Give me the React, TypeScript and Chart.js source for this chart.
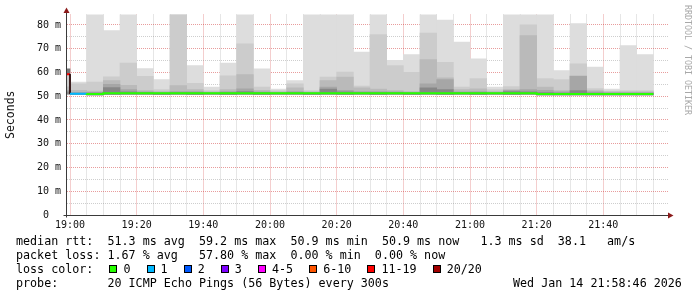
import React, { useEffect, useRef } from 'react';
import { Chart, registerables } from 'chart.js';

Chart.register(...registerables);

// ---------- data ----------
// 5-minute intervals (start times); first one is only partly visible
const intervalStarts = [
  '18:55', '19:00', '19:05', '19:10', '19:15', '19:20', '19:25', '19:30', '19:35',
  '19:40', '19:45', '19:50', '19:55', '20:00', '20:05', '20:10', '20:15', '20:20',
  '20:25', '20:30', '20:35', '20:40', '20:45', '20:50', '20:55', '21:00', '21:05',
  '21:10', '21:15', '21:20', '21:25', '21:30', '21:35', '21:40', '21:45', '21:50',
];

// smoke bands (ms): lowest ping, then nested upper bounds from outermost to innermost
const smokeMin = [
  51.0, 50.8, 50.6, 50.8, 50.9, 50.9, 50.8, 50.9, 50.8, 50.9, 50.8, 50.9,
  50.8, 50.9, 50.9, 50.8, 50.9, 50.8, 50.9, 50.8, 50.9, 50.8, 50.9, 50.8,
  50.9, 50.8, 50.9, 50.8, 50.9, 50.6, 50.6, 50.6, 50.6, 50.6, 50.6, 50.6,
];
const smokeP1 = [
  61.5, 56.0, 97.0, 77.6, 101.0, 61.6, 57.0, 96.0, 62.9, 53.8, 63.9, 99.0,
  61.5, 53.0, 56.6, 95.0, 98.0, 103.0, 68.6, 97.0, 65.1, 67.5, 102.0, 82.0,
  72.8, 65.7, 53.9, 96.0, 100.0, 94.0, 60.8, 80.6, 62.3, 53.0, 71.3, 67.5,
];
const smokeP2 = [
  58.8, 55.2, 56.0, 58.2, 64.0, 58.4, 52.8, 96.0, 55.4, 52.4, 58.6, 72.1,
  53.8, 52.4, 55.2, 52.4, 58.1, 60.2, 54.3, 75.9, 62.9, 60.1, 76.6, 64.3,
  53.9, 57.4, 52.8, 54.1, 80.1, 57.4, 57.0, 63.6, 53.2, 52.2, 52.4, 52.4,
];
const smokeP3 = [
  54.0, 52.5, 52.2, 56.6, 54.6, 52.4, 52.0, 54.5, 52.8, 51.8, 52.8, 59.1,
  52.5, 51.8, 53.5, 51.8, 56.6, 58.1, 53.5, 53.0, 52.4, 52.0, 65.4, 57.7,
  52.8, 53.1, 52.0, 52.8, 75.5, 53.8, 52.4, 58.6, 52.4, 51.8, 51.8, 51.8,
];
const smokeP4 = [
  52.5, 51.6, 51.6, 55.0, 52.8, 51.8, 51.5, 52.0, 52.0, 51.5, 52.0, 53.1,
  51.8, 51.5, 52.0, 51.5, 53.8, 52.5, 52.0, 52.0, 51.8, 51.6, 55.2, 57.0,
  51.8, 52.0, 51.6, 52.5, 52.8, 52.5, 51.8, 58.4, 51.8, 51.5, 51.5, 51.5,
];
const smokeP5 = [
  51.8, 51.2, 51.3, 53.6, 51.8, 51.5, 51.3, 51.5, 51.5, 51.3, 51.5, 52.0,
  51.5, 51.3, 51.5, 51.3, 53.0, 51.8, 51.5, 51.5, 51.5, 51.3, 53.5, 52.8,
  51.5, 51.5, 51.3, 52.0, 51.8, 51.5, 51.3, 52.4, 51.3, 51.2, 51.2, 51.2,
];
const medianRtt = [
  59.3, 51.0, 50.9, 51.2, 51.2, 51.3, 51.2, 51.2, 51.2, 51.3, 51.2, 51.2,
  51.2, 51.3, 51.2, 51.2, 51.2, 51.3, 51.2, 51.2, 51.2, 51.2, 51.3, 51.2,
  51.2, 51.2, 51.2, 51.3, 51.2, 50.9, 50.9, 50.9, 50.9, 50.9, 50.9, 50.9,
];
const lostPings = [
  12, 1, 0, 0, 0, 0, 0, 0, 0, 0, 0, 0,
  0, 0, 0, 0, 0, 0, 0, 0, 0, 0, 0, 0,
  0, 0, 0, 0, 0, 0, 0, 0, 0, 0, 0, 0,
];

const lossBins = ['0', '1', '2', '3', '4-5', '6-10', '11-19', '20/20'];
const lossBinUpper = [0, 1, 2, 3, 5, 10, 19, 20];
const lossBinColors = ['#26ff00', '#00b8ff', '#0059ff', '#7e00ff', '#ff00ff', '#ff5500', '#ff0000', '#a10000'];

const yTickValues = [0, 5, 10, 15, 20, 25, 30, 35, 40, 45, 50, 55, 60, 65, 70, 75, 80];
const xTickMinutes = [
  0, 5, 10, 15, 20, 25, 30, 35, 40, 45, 50, 55, 60, 65, 70, 75, 80, 85,
  90, 95, 100, 105, 110, 115, 120, 125, 130, 135, 140, 145, 150, 155, 160, 165, 170, 175,
];
const axisStartMinute = -0.9; // 18:59:06
const axisEndMinute = 179.4;
const yMax = 84.4;
const intervalMinutes = 5;

const legendRtt = 'median rtt:  51.3 ms avg  59.2 ms max  50.9 ms min  50.9 ms now   1.3 ms sd  38.1   am/s';
const legendLoss = 'packet loss: 1.67 % avg   57.80 % max  0.00 % min  0.00 % now';
const legendProbe = 'probe:       20 ICMP Echo Pings (56 Bytes) every 300s';
const legendDate = 'Wed Jan 14 21:58:46 2026';
const watermark = 'RRDTOOL / TOBI OETIKER';

// ---------- helpers ----------
const MONO = '"DejaVu Sans Mono", monospace';
const GRID_RED = 'rgba(200,20,20,0.42)';
const GRID_GREY = 'rgba(120,120,120,0.36)';
const smokeColors = ['#dddddd', '#cccccc', '#bababa', '#a6a6a6', '#878787'];

function minutesFrom19(t: string): number {
  const [h, m] = t.split(':').map(Number);
  return (h - 19) * 60 + m;
}
function lossColor(n: number): string {
  for (let i = 0; i < lossBinUpper.length; i++) if (n <= lossBinUpper[i]) return lossBinColors[i];
  return lossBinColors[lossBinColors.length - 1];
}
function timeLabel(v: number): string {
  const total = 19 * 60 + v;
  const h = Math.floor(total / 60);
  const m = total % 60;
  return `${h}:${String(m).padStart(2, '0')}`;
}

const axisPlugin = {
  id: 'axisArrows',
  afterDraw(chart: any) {
    const { ctx, chartArea: a } = chart;
    const ax = Math.round(a.left) - 0.5;
    const ay = Math.round(a.bottom) + 0.5;
    ctx.save();
    ctx.strokeStyle = '#3a3a3a';
    ctx.lineWidth = 1;
    ctx.beginPath();
    ctx.moveTo(ax - 3, ay);
    ctx.lineTo(a.right + 0.5, ay);
    ctx.moveTo(ax, ay + 2);
    ctx.lineTo(ax, a.top - 1.5);
    ctx.stroke();
    ctx.fillStyle = '#8b1a1a';
    ctx.beginPath();
    ctx.moveTo(a.right, ay - 3);
    ctx.lineTo(a.right + 5.5, ay);
    ctx.lineTo(a.right, ay + 3);
    ctx.closePath();
    ctx.fill();
    ctx.beginPath();
    ctx.moveTo(ax - 3, a.top - 1.5);
    ctx.lineTo(ax, a.top - 7);
    ctx.lineTo(ax + 3, a.top - 1.5);
    ctx.closePath();
    ctx.fill();
    ctx.restore();
  },
};

export default function App() {
  const canvasRef = useRef<HTMLCanvasElement | null>(null);

  useEffect(() => {
    if (!canvasRef.current) return;
    const starts = intervalStarts.map(minutesFrom19);
    const centers = starts.map((s) => s + intervalMinutes / 2);
    const tops = [smokeP1, smokeP2, smokeP3, smokeP4, smokeP5];

    const smokeSets = tops.map((top, li) => ({
      type: 'bar' as const,
      data: centers.map((c, i) => ({ x: c, y: [smokeMin[i], top[i]] })),
      backgroundColor:
        li === 0 ? centers.map((_, i) => (lostPings[i] >= 11 ? '#777777' : smokeColors[0])) : smokeColors[li],
      borderWidth: 0,
      barPercentage: 1,
      categoryPercentage: 1,
      grouped: false,
      order: 10 - li,
    }));

    const medianPoints: { x: number; y: number }[] = [];
    starts.forEach((s, i) => {
      medianPoints.push({ x: s, y: medianRtt[i] }, { x: s + intervalMinutes, y: medianRtt[i] });
    });
    const isJump = (b: number) => b + 1 < medianRtt.length && Math.abs(medianRtt[b + 1] - medianRtt[b]) > 2;

    const medianSet = {
      type: 'line' as const,
      data: medianPoints,
      borderColor: lossBinColors[0],
      borderWidth: 2,
      pointRadius: 0,
      fill: false,
      tension: 0,
      order: 0,
      segment: {
        borderColor: (ctx: any) => {
          const i = ctx.p0DataIndex;
          const b = Math.floor(i / 2);
          if (i % 2 === 0) return lossColor(lostPings[b]);
          return isJump(b) ? '#2a0808' : lossColor(lostPings[b + 1]);
        },
        borderWidth: (ctx: any) => {
          const i = ctx.p0DataIndex;
          const b = Math.floor(i / 2);
          return i % 2 === 1 && isJump(b) ? 1 : 2;
        },
      },
    };

    const chart = new Chart(canvasRef.current, {
      type: 'bar',
      data: { datasets: [...smokeSets, medianSet] as any },
      options: {
        responsive: false,
        animation: false,
        devicePixelRatio: 1,
        layout: { padding: { left: 0, top: 14.5, right: 29, bottom: 62 } },
        plugins: { legend: { display: false }, tooltip: { enabled: false } },
        scales: {
          x: {
            type: 'linear',
            min: axisStartMinute,
            max: axisEndMinute,
            offset: false,
            z: 1,
            afterBuildTicks: (s: any) => {
              s.ticks = xTickMinutes.map((v) => ({ value: v }));
            },
            afterFit: (s: any) => {
              s.height = 20;
            },
            grid: {
              offset: false,
              drawTicks: false,
              lineWidth: 1,
              color: (c: any) => (c.tick && c.tick.value % 20 === 0 ? GRID_RED : GRID_GREY),
            },
            border: { display: false, dash: [1, 1] },
            ticks: {
              autoSkip: false,
              maxRotation: 0,
              padding: 4,
              color: '#111',
              font: { family: MONO, size: 10 },
              callback: (v: any) => (Number(v) % 20 === 0 ? timeLabel(Number(v)) : ''),
            },
          },
          y: {
            type: 'linear',
            min: 0,
            max: yMax,
            z: 1,
            afterBuildTicks: (s: any) => {
              s.ticks = yTickValues.map((v) => ({ value: v }));
            },
            afterFit: (s: any) => {
              s.width = 67;
            },
            grid: {
              drawTicks: false,
              lineWidth: 1,
              color: (c: any) => (c.tick && c.tick.value % 10 === 0 ? GRID_RED : GRID_GREY),
            },
            border: { display: false, dash: [1, 1] },
            ticks: {
              autoSkip: false,
              padding: 6,
              color: '#111',
              font: { family: MONO, size: 10 },
              callback: (v: any) => {
                const n = Number(v);
                if (n % 10 !== 0) return '';
                return n === 0 ? '0  ' : `${n} m`;
              },
            },
            title: {
              display: true,
              text: 'Seconds',
              color: '#111',
              font: { family: MONO, size: 11.5 },
              padding: { top: 4, bottom: 0 },
            },
          },
        },
      } as any,
      plugins: [axisPlugin],
    });
    return () => chart.destroy();
  }, []);

  const legendFont = `11.7px ${MONO}`;

  return (
    <div style={{ position: 'absolute', left: 0, top: 0, width: 697, height: 297, background: '#fff', overflow: 'hidden' }}>
      <canvas ref={canvasRef} width={697} height={297} style={{ position: 'absolute', left: 0, top: 0, width: 697, height: 297 }} />
      <div
        style={{
          position: 'absolute',
          left: 683,
          top: 5,
          writingMode: 'vertical-rl',
          font: `8.3px ${MONO}`,
          lineHeight: '9px',
          color: '#a8a8a8',
          whiteSpace: 'nowrap',
        }}
      >
        {watermark}
      </div>
      <div style={{ position: 'absolute', left: 16, top: 234, font: legendFont, lineHeight: '14px', whiteSpace: 'pre', color: '#000' }}>
        <div>{legendRtt}</div>
        <div>{legendLoss}</div>
        <div>
          {'loss color:  '}
          {lossBins.map((b, i) => (
            <React.Fragment key={b}>
              <span
                style={{
                  display: 'inline-block',
                  width: 8,
                  height: 8,
                  boxSizing: 'border-box',
                  border: '1px solid #000',
                  background: lossBinColors[i],
                  marginLeft: 2,
                  marginRight: 6,
                }}
              />
              {b + (i < lossBins.length - 1 ? '  ' : '')}
            </React.Fragment>
          ))}
        </div>
        <div>{legendProbe}</div>
      </div>
      <div style={{ position: 'absolute', left: 513, top: 276, font: legendFont, lineHeight: '14px', whiteSpace: 'pre', color: '#000' }}>
        {legendDate}
      </div>
    </div>
  );
}
